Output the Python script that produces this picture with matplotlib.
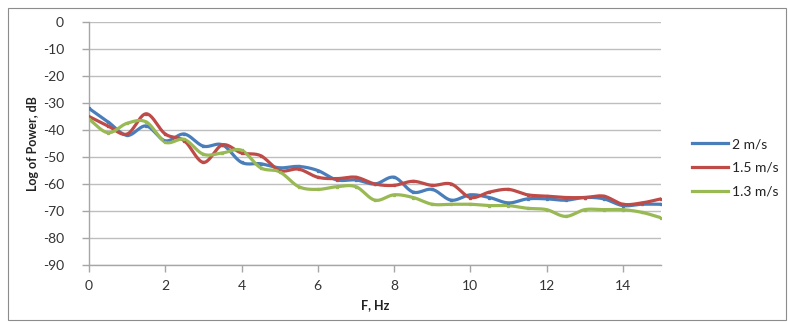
import numpy as np
import matplotlib
matplotlib.use("Agg")
import matplotlib.pyplot as plt
from matplotlib.patches import Rectangle

plt.rcParams['font.family'] = ['Lato', 'DejaVu Sans']
plt.rcParams['axes.unicode_minus'] = False

# Frequency grid (Hz) and power spectra (dB) for three wind speeds
freq = [0.0, 0.5, 1.0, 1.5, 2.0, 2.5, 3.0, 3.5, 4.0, 4.5, 5.0, 5.5, 6.0, 6.5, 7.0,
        7.5, 8.0, 8.5, 9.0, 9.5, 10.0, 10.5, 11.0, 11.5, 12.0, 12.5, 13.0, 13.5,
        14.0, 14.5, 15.0]

power_2_0 = [-32, -37, -42, -38.5, -44, -41.5, -46, -45.5, -52, -52.5, -54, -53.5,
             -55, -58.5, -58.5, -60, -57.5, -63, -62, -66, -64, -65, -67, -65.5,
             -65.5, -66, -65, -65.5, -68, -67.5, -67.5]
power_1_5 = [-35, -38.5, -41.5, -34, -41.5, -44, -52, -45.5, -48.5, -49.5, -55, -54.5,
             -57.5, -58, -57.5, -60, -60.5, -59, -60.5, -60, -65, -63, -62, -64,
             -64.5, -65, -65, -64.5, -67.5, -67, -65.5]
power_1_3 = [-36, -41, -37.5, -37, -44.5, -43.5, -49, -48.5, -47.5, -54, -55.5, -61,
             -62, -61, -61, -66, -64, -65, -67.5, -67.5, -67.5, -68, -68, -69,
             -69.5, -72, -69.5, -69.5, -69.5, -70.5, -72.5]

series_labels = ["2 m/s", "1.5 m/s", "1.3 m/s"]
series_colors = ["#4A7EBB", "#BE4B48", "#98B954"]
x_ticks = [0, 2, 4, 6, 8, 10, 12, 14]
y_ticks = [0, -10, -20, -30, -40, -50, -60, -70, -80, -90]


def smooth_curve(x, y, n=20):
    """Catmull-Rom spline through the points, like a smoothed line chart."""
    x = np.asarray(x, float)
    y = np.asarray(y, float)
    px = np.concatenate([[2 * x[0] - x[1]], x, [2 * x[-1] - x[-2]]])
    py = np.concatenate([[2 * y[0] - y[1]], y, [2 * y[-1] - y[-2]]])
    xs, ys = [], []
    t = np.linspace(0, 1, n, endpoint=False)
    for i in range(1, len(px) - 2):
        for arr, out in ((px, xs), (py, ys)):
            p0, p1, p2, p3 = arr[i - 1], arr[i], arr[i + 1], arr[i + 2]
            out.extend(0.5 * ((2 * p1) + (-p0 + p2) * t
                              + (2 * p0 - 5 * p1 + 4 * p2 - p3) * t ** 2
                              + (-p0 + 3 * p1 - 3 * p2 + p3) * t ** 3))
    xs.append(x[-1])
    ys.append(y[-1])
    return np.array(xs), np.array(ys)


fig = plt.figure(figsize=(7.88, 3.22), dpi=100)
fig.patch.set_facecolor("white")
fig.patches.append(Rectangle((8 / 788, 2 / 322), 778 / 788, 312 / 322,
                             transform=fig.transFigure, fill=False,
                             edgecolor="#8C8C8C", linewidth=0.8))

ax = fig.add_axes([89 / 788, 1 - 265 / 322, 572 / 788, 243 / 322])

for vals, lab, col in zip([power_2_0, power_1_5, power_1_3], series_labels, series_colors):
    sx, sy = smooth_curve(freq, vals)
    ax.plot(sx, sy, color=col, linewidth=2.3, solid_capstyle="round", zorder=3)
    ax.plot(freq, vals, linestyle="none", marker="s", markersize=1.4,
            color=col, zorder=4)
    ax.plot([], [], color=col, linewidth=2.3, label=lab)

ax.set_xlim(0, 15)
ax.set_ylim(-90, 0)
ax.set_xticks(x_ticks)
ax.set_yticks(y_ticks)
ax.grid(axis="y", color="#BEBEBE", linewidth=1.0)
ax.set_axisbelow(True)
for side in ("top", "right"):
    ax.spines[side].set_visible(False)
for side in ("left", "bottom"):
    ax.spines[side].set_color("#A6A6A6")
    ax.spines[side].set_linewidth(1.0)
ax.tick_params(axis="both", colors="#A6A6A6", length=5, width=1.0,
               labelcolor="#333333", labelsize=10)
ax.tick_params(axis="y", pad=13)
ax.tick_params(axis="x", pad=6)

ax.set_xlabel("F, Hz", fontsize=9, fontweight="bold", color="#222222", labelpad=5)
ax.set_ylabel("Log of Power, dB", fontsize=9, fontweight="bold", color="#222222", labelpad=3)

leg = ax.legend(loc="upper left", bbox_to_anchor=(1.045, 0.545), frameon=False,
                fontsize=10, handlelength=2.6, handletextpad=0.25, labelspacing=0.85,
                borderaxespad=0)
for t in leg.get_texts():
    t.set_color("#222222")

fig.savefig("out.png", dpi=100, facecolor="white")
